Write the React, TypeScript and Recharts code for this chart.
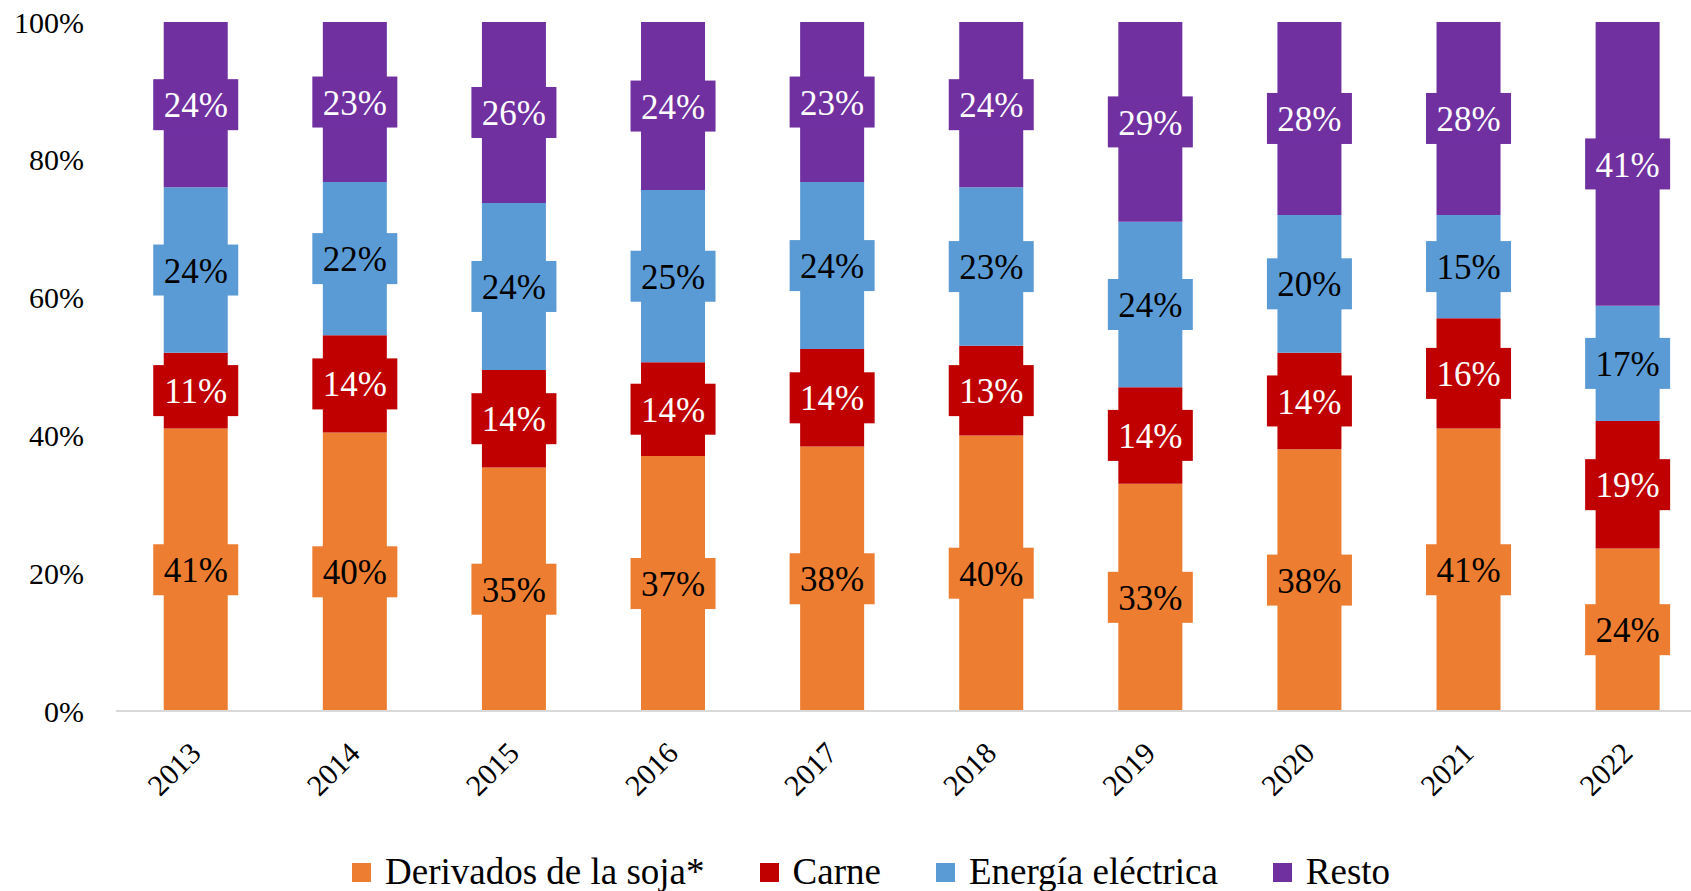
import { BarChart, Bar, XAxis, YAxis, LabelList } from 'recharts';

const years = ['2013', '2014', '2015', '2016', '2017', '2018', '2019', '2020', '2021', '2022'];
const soja = [41, 40, 35, 37, 38, 40, 33, 38, 41, 23.6];
const carne = [11, 14, 14, 13.6, 14, 13, 14, 14, 16, 18.5];
const energia = [24, 22, 24, 25, 24, 23, 24, 20, 15, 16.7];
const resto = [24, 23, 26, 24.4, 23, 24, 29, 28, 28, 41.2];
const yTicks = [0, 0.2, 0.4, 0.6, 0.8, 1];

const FONT = 'Liberation Serif, Tinos, Times New Roman, DejaVu Serif, serif';

const series = [
    { key: 'soja', name: 'Derivados de la soja*', color: '#ED7D31', text: '#000000' },
    { key: 'carne', name: 'Carne', color: '#C00000', text: '#ffffff' },
    { key: 'energia', name: 'Energía eléctrica', color: '#5B9BD5', text: '#000000' },
    { key: 'resto', name: 'Resto', color: '#7030A0', text: '#ffffff' },
];

const data = years.map((year, i) => ({
    year,
    soja: soja[i],
    carne: carne[i],
    energia: energia[i],
    resto: resto[i],
}));

const makeLabel = (fill: string, textColor: string) => (props: any) => {
    const { x, y, width, height, value } = props;
    const cx = x + width / 2;
    const cy = y + height / 2;
    const bw = width + 21;
    const bh = 51;
    return (
        <g>
            <rect x={cx - bw / 2} y={cy - bh / 2} width={bw} height={bh} fill={fill} />
            <text x={cx} y={cy} dy="0.36em" textAnchor="middle" fontSize={35} style={{ fontFamily: FONT }} fill={textColor}>
                {Math.round(value)}%
            </text>
        </g>
    );
};

const YearTick = (props: any) => {
    const { x, y, payload } = props;
    return (
        <text
            transform={`translate(${x + 7},${y + 44}) rotate(-45)`}
            textAnchor="end"
            fontSize={30}
            style={{ fontFamily: FONT }}
            fill="#000000"
        >
            {payload.value}
        </text>
    );
};

export default function App() {
    return (
        <div style={{ position: 'fixed', left: 0, top: 0, width: 1691, height: 891, overflow: 'hidden', background: '#fff', fontFamily: FONT }}>
            <BarChart
                width={1707}
                height={891}
                data={data}
                stackOffset="expand"
                barCategoryGap="30%"
                margin={{ top: 22, right: 0, left: 0, bottom: 80 }}
                style={{ fontFamily: FONT }}
            >
                <XAxis
                    dataKey="year"
                    height={100}
                    tickLine={false}
                    tickSize={0}
                    tickMargin={0}
                    axisLine={{ stroke: '#d9d9d9', strokeWidth: 2 }}
                    tick={<YearTick />}
                    interval={0}
                />
                <YAxis
                    width={116}
                    domain={[0, 1]}
                    ticks={yTicks}
                    axisLine={false}
                    tickLine={false}
                    tickSize={0}
                    tickMargin={32}
                    tickFormatter={(v: number) => `${Math.round(v * 100)}%`}
                    tick={{ fontSize: 30, fill: '#000000', style: { fontFamily: FONT } }}
                />
                {series.map((s) => (
                    <Bar key={s.key} dataKey={s.key} name={s.name} stackId="a" fill={s.color} isAnimationActive={false}>
                        <LabelList dataKey={s.key} content={makeLabel(s.color, s.text)} />
                    </Bar>
                ))}
            </BarChart>
            <div
                style={{
                    position: 'absolute',
                    left: 352,
                    top: 852,
                    display: 'flex',
                    alignItems: 'center',
                    gap: 55,
                    fontSize: 37,
                    lineHeight: '40px',
                    color: '#000000',
                    whiteSpace: 'nowrap',
                }}
            >
                {series.map((s) => (
                    <div key={s.key} style={{ display: 'flex', alignItems: 'center' }}>
                        <span style={{ display: 'inline-block', width: 19, height: 19, background: s.color, marginRight: 14 }} />
                        <span>{s.name}</span>
                    </div>
                ))}
            </div>
        </div>
    );
}
